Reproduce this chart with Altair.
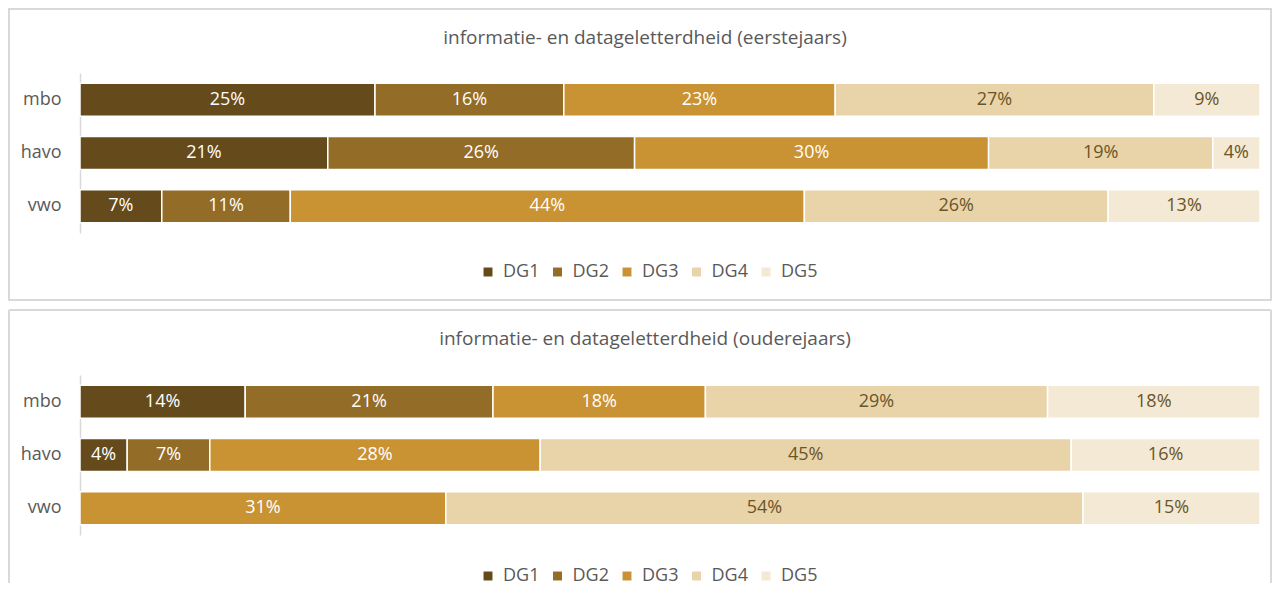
import altair as alt
import pandas as pd

schools = ["mbo", "havo", "vwo"]
levels = ["DG1", "DG2", "DG3", "DG4", "DG5"]
colors = ["#654a1b", "#936c27", "#c99232", "#e9d3a9", "#f3e9d4"]

# eerstejaars (first-year students), percentages per DG level
eerste_mbo = [25, 16, 23, 27, 9]
eerste_havo = [21, 26, 30, 19, 4]
eerste_vwo = [7, 11, 44, 26, 13]

# ouderejaars (older students)
oudere_mbo = [14, 21, 18, 29, 18]
oudere_havo = [4, 7, 28, 45, 16]
oudere_vwo = [0, 0, 31, 54, 15]

title_top = "informatie- en datageletterdheid (eerstejaars)"
title_bottom = "informatie- en datageletterdheid (ouderejaars)"

FONT = "Open Sans"
GRAY = "#595959"
BORDER = "#d9d9d9"
W, H = 1180, 160
FS = 18


def build_df(rows):
    recs = []
    for school, vals in zip(schools, rows):
        for i, (lvl, v) in enumerate(zip(levels, vals)):
            if v > 0:
                recs.append({"school": school, "level": lvl, "order": i, "value": v})
    return pd.DataFrame(recs)


def panel(df, title, full_box, legend_y):
    base = alt.Chart(df).transform_joinaggregate(
        total="sum(value)", groupby=["school"]
    ).transform_calculate(
        pct="datum.value / datum.total"
    ).transform_stack(
        stack="pct", groupby=["school"], as_=["x0", "x1"],
        sort=[alt.SortField("order", order="ascending")]
    ).transform_calculate(
        mid="(datum.x0 + datum.x1) / 2"
    )
    yenc = alt.Y(
        "school:N", sort=schools, title=None,
        scale=alt.Scale(paddingInner=0.38, paddingOuter=0.19),
        axis=alt.Axis(domain=True, domainColor=BORDER, domainWidth=1.5,
                      ticks=False, labelFontSize=FS, labelColor=GRAY,
                      labelFont=FONT, labelPadding=19, grid=False),
    )
    xscale = alt.Scale(domain=[0, 1], nice=False)
    bars = base.mark_bar(stroke="white", strokeWidth=1.5).encode(
        x=alt.X("x0:Q", scale=xscale, axis=None),
        x2="x1:Q",
        y=yenc,
        color=alt.Color(
            "level:N", scale=alt.Scale(domain=levels, range=colors),
            legend=alt.Legend(
                orient="none", legendX=399, legendY=legend_y, direction="horizontal",
                title=None, symbolType="square", symbolSize=80,
                symbolStrokeWidth=0, labelFontSize=FS, labelColor=GRAY,
                labelFont=FONT, columnPadding=8.5, labelOffset=6,
            ),
        ),
    )
    texts = base.transform_calculate(label="datum.value + '%'").mark_text(
        fontSize=FS, font=FONT).encode(
        x=alt.X("mid:Q", scale=xscale, axis=None),
        y=alt.Y("school:N", sort=schools),
        text="label:N",
        color=alt.condition(
            "datum.level == 'DG4' || datum.level == 'DG5'",
            alt.value("#6b5527"), alt.value("white")),
    )
    one = pd.DataFrame({"k": [0]})
    if full_box:
        box = alt.Chart(one).mark_rect(fill=None, stroke=BORDER, strokeWidth=2).encode(
            x=alt.value(-71), x2=alt.value(1191), y=alt.value(-64), y2=alt.value(227)
        )
        layers = [box]
    else:
        top = alt.Chart(one).mark_rule(color=BORDER, strokeWidth=2).encode(
            x=alt.value(-71), x2=alt.value(1191), y=alt.value(-65))
        left = alt.Chart(one).mark_rule(color=BORDER, strokeWidth=2).encode(
            x=alt.value(-71), y=alt.value(-65), y2=alt.value(208))
        right = alt.Chart(one).mark_rule(color=BORDER, strokeWidth=2).encode(
            x=alt.value(1191), y=alt.value(-65), y2=alt.value(208))
        layers = [top, left, right]
    return alt.layer(bars, texts, *layers).properties(
        width=W, height=H,
        title=alt.Title(title, fontSize=19, color=GRAY, font=FONT,
                        fontWeight="normal", anchor="middle", frame="bounds",
                        offset=-49, baseline="middle", dx=5),
    )


top = panel(build_df([eerste_mbo, eerste_havo, eerste_vwo]), title_top, True, 190)
bottom = panel(build_df([oudere_mbo, oudere_havo, oudere_vwo]), title_bottom, False, 192)

chart = alt.vconcat(top, bottom, spacing=8).resolve_scale(
    color="independent"
).properties(padding=0).configure_view(stroke=None)

chart.save("out.html", embed_options={"renderer": "svg", "actions": False})
